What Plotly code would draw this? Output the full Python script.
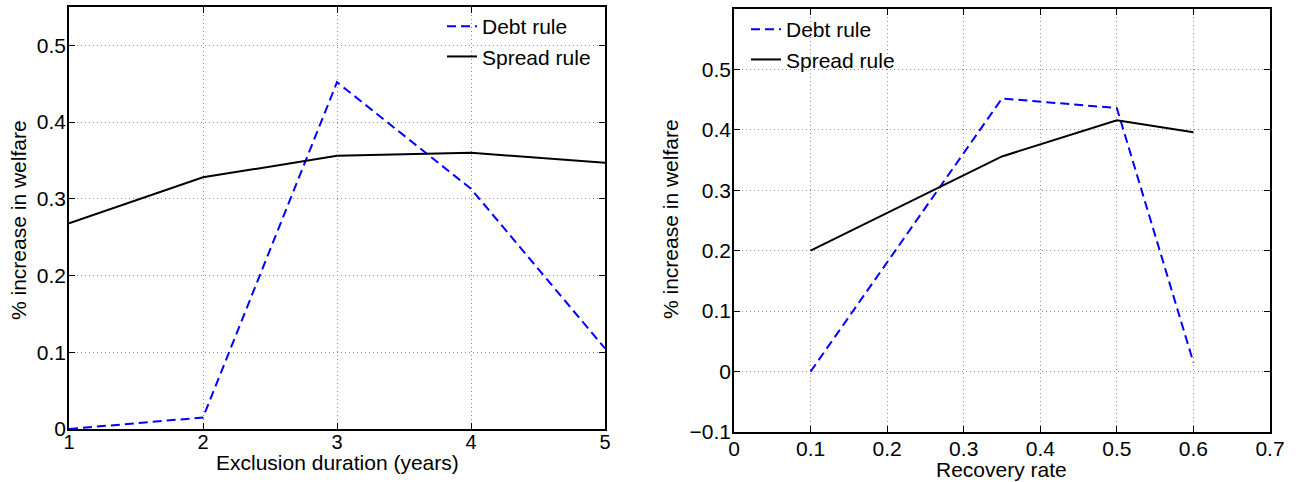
import plotly.graph_objects as go

# Left panel: exclusion duration
excl_years = [1, 2, 3, 4, 5]
excl_debt = [0.0, 0.015, 0.452, 0.313, 0.105]
excl_spread = [0.268, 0.328, 0.356, 0.360, 0.347]

# Right panel: recovery rate
recov_rate = [0.1, 0.35, 0.5, 0.6]
recov_debt = [0.0, 0.452, 0.436, 0.015]
recov_spread = [0.200, 0.356, 0.416, 0.396]

left_xticks = [1, 2, 3, 4, 5]
left_yticks = [0, 0.1, 0.2, 0.3, 0.4, 0.5]
right_xticks = [0, 0.1, 0.2, 0.3, 0.4, 0.5, 0.6, 0.7]
right_yticks = [-0.1, 0, 0.1, 0.2, 0.3, 0.4, 0.5]

left_xtitle = "Exclusion duration (years)"
right_xtitle = "Recovery rate"
ytitle = "% increase in welfare"

FONT = "Liberation Sans, Arial, Helvetica, sans-serif"
BLUE = "#0000ff"
W, H = 1301, 482

fig = go.Figure()
fig.add_trace(go.Scatter(x=excl_years, y=excl_debt, mode="lines", name="Debt rule",
                         line=dict(color=BLUE, width=2, dash="9px,5px"),
                         xaxis="x", yaxis="y", legend="legend"))
fig.add_trace(go.Scatter(x=excl_years, y=excl_spread, mode="lines", name="Spread rule",
                         line=dict(color="black", width=2),
                         xaxis="x", yaxis="y", legend="legend"))
fig.add_trace(go.Scatter(x=recov_rate, y=recov_debt, mode="lines", name="Debt rule",
                         line=dict(color=BLUE, width=2, dash="9px,5px"),
                         xaxis="x2", yaxis="y2", legend="legend2"))
fig.add_trace(go.Scatter(x=recov_rate, y=recov_spread, mode="lines", name="Spread rule",
                         line=dict(color="black", width=2),
                         xaxis="x2", yaxis="y2", legend="legend2"))

axis_common = dict(
    showline=True, linecolor="black", linewidth=1.5, mirror="ticks",
    ticks="inside", ticklen=6, tickcolor="black", tickwidth=1,
    showgrid=True, gridcolor="#8c8c8c", griddash="1px,3px", gridwidth=1,
    zeroline=False, automargin=False,
)
ytickfont = dict(family=FONT, size=21, color="black")
xtickfont = dict(family=FONT, size=20, color="black")

fig.update_layout(
    width=W, height=H,
    margin=dict(l=0, r=0, t=0, b=0, autoexpand=False),
    paper_bgcolor="white", plot_bgcolor="white",
    font=dict(family=FONT, color="black"),
    xaxis=dict(domain=[69/W, 605/W], range=[1, 5], tickvals=left_xticks,
               ticktext=[str(v) for v in left_xticks], tickfont=xtickfont,
               anchor="y", ticklabelstandoff=-6, **axis_common),
    yaxis=dict(domain=[(H-429)/H, (H-7)/H], range=[0, 0.55], tickvals=left_yticks,
               ticktext=["0", "0.1", "0.2", "0.3", "0.4", "0.5"], tickfont=ytickfont,
               anchor="x", ticklabelstandoff=-3, **axis_common),
    xaxis2=dict(domain=[734/W, 1270/W], range=[0, 0.7], tickvals=right_xticks,
                ticktext=["0", "0.1", "0.2", "0.3", "0.4", "0.5", "0.6", "0.7"],
                tickfont=dict(family=FONT, size=21, color="black"),
                anchor="y2", ticklabelstandoff=-3, **axis_common),
    yaxis2=dict(domain=[(H-432)/H, (H-9)/H], range=[-0.1, 0.6], tickvals=right_yticks,
                ticktext=["\u22120.1", "0", "0.1", "0.2", "0.3", "0.4", "0.5"], tickfont=ytickfont,
                anchor="x2", ticklabelstandoff=-3, **axis_common),
    legend=dict(x=442/W, y=1 - 6/H, xanchor="left", yanchor="top",
                bgcolor="rgba(0,0,0,0)", borderwidth=0,
                font=dict(family=FONT, size=21, color="black"),
                tracegroupgap=0, itemwidth=30),
    legend2=dict(x=746/W, y=1 - 9/H, xanchor="left", yanchor="top",
                 bgcolor="rgba(0,0,0,0)", borderwidth=0,
                 font=dict(family=FONT, size=21, color="black"),
                 tracegroupgap=0, itemwidth=30),
    showlegend=True,
)

title_font = dict(family=FONT, size=21, color="black")
fig.add_annotation(text=left_xtitle, xref="paper", yref="paper", x=337/W, y=(H-462)/H,
                   xanchor="center", yanchor="middle", showarrow=False, font=title_font)
fig.add_annotation(text=right_xtitle, xref="paper", yref="paper", x=1001/W, y=(H-469)/H,
                   xanchor="center", yanchor="middle", showarrow=False, font=title_font)
fig.add_annotation(text=ytitle, xref="paper", yref="paper", x=18/W, y=(H-220)/H,
                   xanchor="center", yanchor="middle", textangle=-90, showarrow=False, font=title_font)
fig.add_annotation(text=ytitle, xref="paper", yref="paper", x=670/W, y=(H-219)/H,
                   xanchor="center", yanchor="middle", textangle=-90, showarrow=False, font=title_font)

fig.write_html("out.html", config={"displayModeBar": False},
               post_script="document.body.style.margin='0px';")
